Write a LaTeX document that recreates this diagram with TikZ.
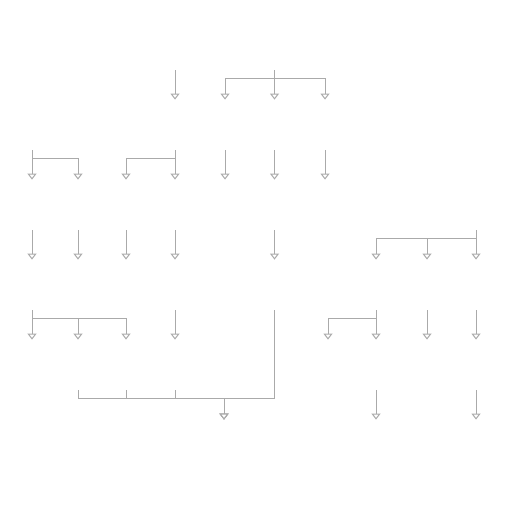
\documentclass[tikz,border=0pt]{standalone}
\usepackage{tikz}
\usetikzlibrary{arrows.meta,calc}
\definecolor{edgegray}{RGB}{170,170,170}

\begin{document}
\begin{tikzpicture}[x=0.5pt, y=-0.5pt, thin,
    cls/.style = {minimum width=20pt, minimum height=25pt, inner sep=0pt},
    edge/.style = {draw=edgegray, line width=0.5pt, -{Triangle[open, width=4.5pt, length=3pt, fill=white]}}]
        \useasboundingbox (0,0) rectangle (512,512);

        % row 0
        \node[cls] (a1) at (175,45) {};
        \node[cls] (a2) at (274.5,45) {};
        % row 1
        \node[cls] (b1) at (32,125) {};
        \node[cls] (b2) at (175,125) {};
        \node[cls] (b3) at (225,125) {};
        \node[cls] (b4) at (274.5,125) {};
        \node[cls] (b5) at (325,125) {};
        % row 2
        \node[cls] (c1) at (32,205) {};
        \node[cls] (c2) at (78,205) {};
        \node[cls] (c3) at (126,205) {};
        \node[cls] (c4) at (175,205) {};
        \node[cls] (c5) at (225,205) {};
        \node[cls] (c6) at (274.5,205) {};
        \node[cls] (c7) at (325,205) {};
        \node[cls] (c8) at (476,205) {};
        % row 3
        \node[cls] (d1) at (32,285) {};
        \node[cls] (d2) at (78,285) {};
        \node[cls] (d3) at (126,285) {};
        \node[cls] (d4) at (175,285) {};
        \node[cls] (d5) at (274.5,285) {};
        \node[cls] (d6) at (376,285) {};
        \node[cls] (d7) at (427,285) {};
        \node[cls] (d8) at (476,285) {};
        % row 4
        \node[cls] (e1) at (32,365) {};
        \node[cls] (e2) at (78,365) {};
        \node[cls] (e3) at (126,365) {};
        \node[cls] (e4) at (175,365) {};
        \node[cls] (e5) at (328,365) {};
        \node[cls] (e6) at (376,365) {};
        \node[cls] (e7) at (427,365) {};
        \node[cls] (e8) at (476,365) {};
        % row 5
        \node[cls] (f1) at (224,445) {};
        \node[cls] (f2) at (376,445) {};
        \node[cls] (f3) at (476,445) {};
        \coordinate (m) at (224,398);

        \draw[edge] (a1.south) -- (b2.north);
        \draw[edge] (a2.south) -- ++(0,8) -| (b3.north);
        \draw[edge] (a2.south) -- (b4.north);
        \draw[edge] (a2.south) -- ++(0,8) -| (b5.north);

        \draw[edge] (b1.south) -- (c1.north);
        \draw[edge] (b1.south) -- ++(0,8) -| (c2.north);
        \draw[edge] (b2.south) -- ++(0,8) -| (c3.north);
        \draw[edge] (b2.south) -- (c4.north);
        \draw[edge] (b3.south) -- (c5.north);
        \draw[edge] (b4.south) -- (c6.north);
        \draw[edge] (b5.south) -- (c7.north);

        \draw[edge] (c1.south) -- (d1.north);
        \draw[edge] (c2.south) -- (d2.north);
        \draw[edge] (c3.south) -- (d3.north);
        \draw[edge] (c4.south) -- (d4.north);
        \draw[edge] (c6.south) -- (d5.north);
        \draw[edge] (c8.south) -- ++(0,8) -| (d6.north);
        \draw[edge] (c8.south) -- ++(0,8) -| (d7.north);
        \draw[edge] (c8.south) -- (d8.north);

        \draw[edge] (d1.south) -- (e1.north);
        \draw[edge] (d1.south) -- ++(0,8) -| (e2.north);
        \draw[edge] (d1.south) -- ++(0,8) -| (e3.north);
        \draw[edge] (d4.south) -- (e4.north);
        \draw[edge] (d6.south) -- ++(0,8) -| (e5.north);
        \draw[edge] (d6.south) -- (e6.north);
        \draw[edge] (d7.south) -- (e7.north);
        \draw[edge] (d8.south) -- (e8.north);

        \draw[edge] (e2.south) |- (m) -- (f1.north);
        \draw[edge] (e3.south) |- (m) -- (f1.north);
        \draw[edge] (e4.south) |- (m) -- (f1.north);
        \draw[edge] (d5.south) |- (m) -- (f1.north);
        \draw[edge] (e6.south) -- (f2.north);
        \draw[edge] (e8.south) -- (f3.north);

    \end{tikzpicture}
\end{document}
